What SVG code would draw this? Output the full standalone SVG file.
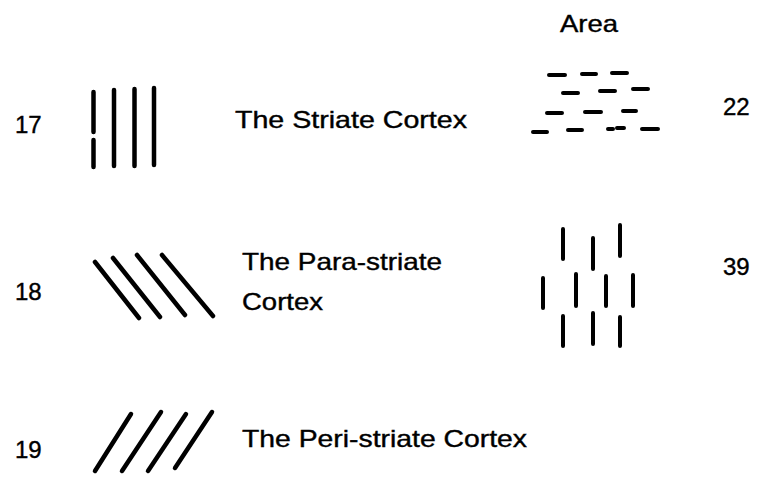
<svg xmlns="http://www.w3.org/2000/svg" width="758" height="479" viewBox="0 0 758 479">
<style>
text{font-family:"Liberation Sans",Arial,sans-serif;font-size:24px;fill:#000;stroke:#000;stroke-width:0.4}
.ln{stroke:#000;stroke-width:4.5;stroke-linecap:round;fill:none}
.dv{stroke:#000;stroke-width:4;stroke-linecap:round;fill:none}
.dh{stroke:#000;stroke-width:4;stroke-linecap:round;fill:none}
</style>
<rect width="758" height="479" fill="#fff"/>
<g id="header"><text x="560" y="32" textLength="58" lengthAdjust="spacingAndGlyphs">Area</text></g>
<g id="area17">
<text x="15" y="133">17</text>
<path class="ln" d="M93.5 92V132M93.5 140V167M114 90V166M134.5 89V166M154 88V165"/>
<text x="235" y="128" textLength="232" lengthAdjust="spacingAndGlyphs">The Striate Cortex</text>
</g>
<g id="area18">
<text x="15" y="300">18</text>
<path class="ln" d="M95 262L139 318M113 258L160 317M137 255L185 315M162 255L213 316"/>
<text x="242" y="270" textLength="200" lengthAdjust="spacingAndGlyphs">The Para-striate</text>
<text x="242" y="310" textLength="81" lengthAdjust="spacingAndGlyphs">Cortex</text>
</g>
<g id="area19">
<text x="15" y="458">19</text>
<path class="ln" d="M95 471L131 414M122 471L161 412M148 471L186 414M175 468L212 412"/>
<text x="242" y="447" textLength="285" lengthAdjust="spacingAndGlyphs">The Peri-striate Cortex</text>
</g>
<g id="area22">
<path class="dh" d="M549 75H565M582 74H596M612 73H627M563 93H578M600 91H615M633 89H648M547 113H562M585 112H601M623 111H636M533 132H547M568 130H582M608 129H613M617 128H624M642 129H658"/>
<text x="723" y="115">22</text>
</g>
<g id="area39">
<path class="dv" d="M563 229V259M593 238V269M620 225V256M543 278V308M576 274V306M606 276V306M633 275V306M563 316V346M593 313V344M620 317V346"/>
<text x="723" y="275">39</text>
</g>
</svg>
